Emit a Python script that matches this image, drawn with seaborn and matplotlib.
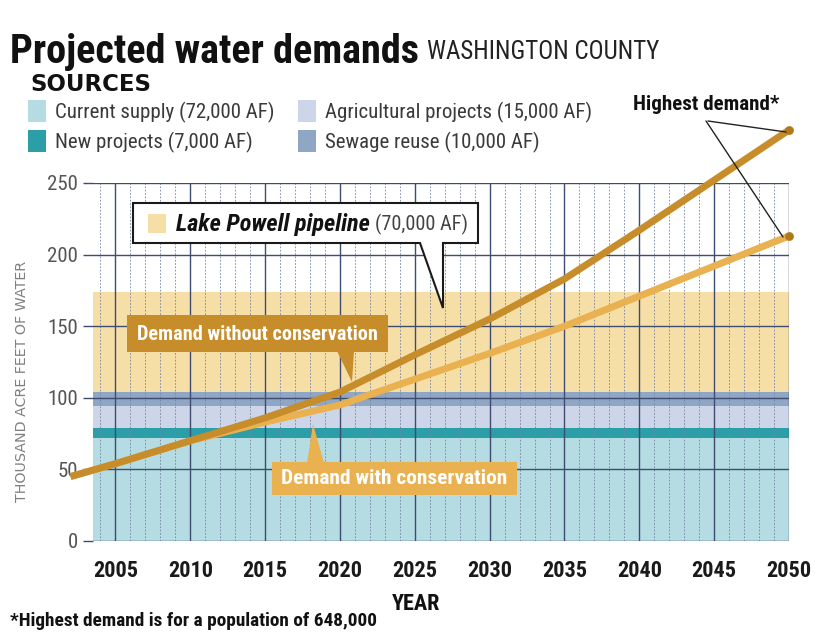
import numpy as np
import pandas as pd
import matplotlib
matplotlib.use("Agg")
import matplotlib.pyplot as plt
import seaborn as sns
from matplotlib import font_manager
from matplotlib.patches import Rectangle, Polygon
from matplotlib.lines import Line2D

# ---------------- data ----------------
years = [2002, 2005, 2010, 2015, 2020, 2025, 2030, 2035, 2040, 2045, 2050]
demand_without = [45, 54, 70, 86, 104, 130, 155, 183, 217, 252, 287]
demand_with = [45, 54, 70, 83, 95, 113, 131, 150, 171, 192, 213]

source_names = ["Current supply", "New projects", "Agricultural projects",
                "Sewage reuse", "Lake Powell pipeline"]
source_amounts = [72, 7, 15, 10, 70]          # thousand acre feet
source_labels = ["Current supply (72,000 AF)", "New projects (7,000 AF)",
                 "Agricultural projects (15,000 AF)", "Sewage reuse (10,000 AF)",
                 "(70,000 AF)"]
source_colors = ["#b5dce3", "#2b9ea7", "#cdd6e8", "#8fa6c4", "#f6dea7"]

x_ticks = [2005, 2010, 2015, 2020, 2025, 2030, 2035, 2040, 2045, 2050]
y_ticks = [0, 50, 100, 150, 200, 250]

# ---------------- style ----------------
sns.set_theme(style="white")
avail = {f.name for f in font_manager.fontManager.ttflist}
NARROW = next((n for n in ["Liberation Sans Narrow", "Roboto Condensed",
                           "Liberation Sans", "Roboto"] if n in avail), "DejaVu Sans")
plt.rcParams["font.family"] = [NARROW, "DejaVu Sans"]

W, H = 815, 633
fig = plt.figure(figsize=(W / 100, H / 100), dpi=100)
fig.patch.set_facecolor("white")


def fx(x):
    return x / W


def fy(y):
    return 1 - y / H


renderer = fig.canvas.get_renderer()


def fit(t, width_px):
    w = t.get_window_extent(renderer).width
    t.set_fontsize(t.get_fontsize() * width_px / w)
    return t


L, R, T, B = 93, 789, 183, 541
ax = fig.add_axes([fx(L), fy(B), fx(R) - fx(L), fy(T) - fy(B)])
ax.set_xlim(2003.5, 2050)
ax.set_ylim(0, 250)
for s in ax.spines.values():
    s.set_visible(False)

# stacked supply bands
bottoms = np.concatenate([[0], np.cumsum(source_amounts)[:-1]])
for b, a, c in zip(bottoms, source_amounts, source_colors):
    ax.axhspan(b, b + a, color=c, lw=0, zorder=0.5)

# grid
ax.set_xticks(x_ticks)
ax.set_xticks([y for y in range(2004, 2050) if y % 5], minor=True)
ax.set_yticks(y_ticks)
ax.grid(which="major", axis="x", color="#3d4c70", lw=1.0)
ax.grid(which="minor", axis="x", color="#7483a3", lw=0.6, ls=(0, (2, 2)))
ax.grid(which="major", axis="y", color="#3d4c70", lw=1.0)
ax.tick_params(axis="x", which="both", length=0, pad=14)
ax.tick_params(axis="y", which="major", length=7, width=1, color="#3d4c70",
               direction="out", pad=4, left=True)
for lab in ax.get_xticklabels():
    lab.set_fontweight("bold")
    lab.set_fontsize(16)
    lab.set_color("#1a1a1a")
for lab in ax.get_yticklabels():
    lab.set_fontsize(15)
    lab.set_color("#555555")

# demand lines
df = pd.DataFrame({
    "year": years * 2,
    "demand": demand_with + demand_without,
    "scenario": ["Demand with conservation"] * len(years)
                + ["Demand without conservation"] * len(years),
})
pal = {"Demand with conservation": "#e9b14f",
       "Demand without conservation": "#c68d2a"}
sns.lineplot(data=df, x="year", y="demand", hue="scenario", palette=pal,
             lw=5, legend=False, ax=ax, zorder=3, solid_capstyle="butt")
for ln in ax.lines:
    ln.set_clip_on(False)
ax.set_xlabel("")
ax.set_ylabel("")
ax.scatter([years[-1], years[-1]], [demand_without[-1], demand_with[-1]],
           s=40, color="#b07a1c", zorder=4, clip_on=False, lw=0)


def frect(x0, y0, x1, y1, **kw):
    p = Rectangle((fx(x0), fy(y1)), fx(x1) - fx(x0), fy(y0) - fy(y1),
                  transform=fig.transFigure, **kw)
    fig.add_artist(p)
    return p


def fpoly(pts, **kw):
    p = Polygon([(fx(x), fy(y)) for x, y in pts], closed=True,
                transform=fig.transFigure, **kw)
    fig.add_artist(p)
    return p


def ftext(x, y, s, **kw):
    return fig.text(fx(x), fy(y), s, **kw)


# ---------------- title and legend ----------------
title = ftext(10, 63, "Projected water demands", fontsize=30, fontweight="bold",
              color="#111111", va="baseline")
fit(title, 410)
tb = title.get_window_extent(renderer)
sub = fig.text(tb.x1 / W + fx(8), fy(59), "WASHINGTON COUNTY",
               fontsize=17, color="#222222", va="baseline")
fit(sub, 232)

ftext(30, 91, "SOURCES", fontsize=16.5, fontweight="heavy", color="#111111",
      va="baseline", family="DejaVu Sans")

leg_pos = [(28, 100), (28, 130), (298, 100), (298, 130)]
leg_fs = None
for (x, y), lab, col in zip(leg_pos, source_labels[:4], source_colors[:4]):
    frect(x, y, x + 18, y + 22, color=col, lw=0)
    t = ftext(x + 27, y + 18, lab, fontsize=15, color="#3a3a3a", va="baseline")
    if leg_fs is None:
        fit(t, 220)
        leg_fs = t.get_fontsize()
    else:
        t.set_fontsize(leg_fs)

# Highest demand annotation
hd = ftext(706, 110, "Highest demand*", fontsize=14, fontweight="bold",
           color="#111111", va="baseline", ha="center")
fit(hd, 147)
fig.add_artist(Line2D([fx(708), fx(786)], [fy(121), fy(132)], color="#222222",
                      lw=1.0, transform=fig.transFigure))
fig.add_artist(Line2D([fx(706), fx(783)], [fy(121), fy(237)], color="#222222",
                      lw=1.0, transform=fig.transFigure))

# Lake Powell callout
fpoly([(133, 203), (478, 203), (478, 243), (443, 243), (443, 308), (420, 243),
       (133, 243)], facecolor="white", edgecolor="#1a1a1a", lw=1.5, zorder=2)
frect(148, 214, 166, 233, color=source_colors[4], lw=0, zorder=3)
lp = ftext(176, 231, "Lake Powell pipeline", fontsize=15, fontweight="bold",
           fontstyle="italic", color="#111111", va="baseline", zorder=4)
fit(lp, 195)
lpb = lp.get_window_extent(renderer)
lp2 = fig.text(lpb.x1 / W + fx(5), fy(230), source_labels[4], fontsize=13,
               color="#444444", va="baseline", zorder=4)
fit(lp2, 93)

# demand callouts
c_without = pal["Demand without conservation"]
c_with = pal["Demand with conservation"]
frect(127, 315, 388, 352, color=c_without, lw=0, zorder=2)
fpoly([(337, 351), (354, 351), (352, 382)], color=c_without, lw=0, zorder=2)
t1 = ftext(257, 334, "Demand without conservation", fontsize=15,
           fontweight="bold", color="white", ha="center", va="center", zorder=4)
fit(t1, 240)

frect(272, 462, 517, 495, color=c_with, lw=0, zorder=2)
fpoly([(307, 463), (324, 463), (313, 424)], color=c_with, lw=0, zorder=2)
t2 = ftext(394, 479, "Demand with conservation", fontsize=15,
           fontweight="bold", color="white", ha="center", va="center", zorder=4)
fit(t2, 226)

# axis labels and footnote
ftext(22, 381, "THOUSAND ACRE FEET OF WATER",
      fontsize=10.3, color="#808080", rotation=90, ha="center", va="center",
      family="DejaVu Sans")
ftext(416, 604, "YEAR", fontsize=16, fontweight="bold", color="#111111",
      ha="center", va="center")
fn = ftext(10, 626, "*Highest demand is for a population of 648,000",
           fontsize=13, fontweight="bold", color="#111111", va="baseline")
fit(fn, 366)

fig.savefig("out.png", dpi=100, facecolor="white")
